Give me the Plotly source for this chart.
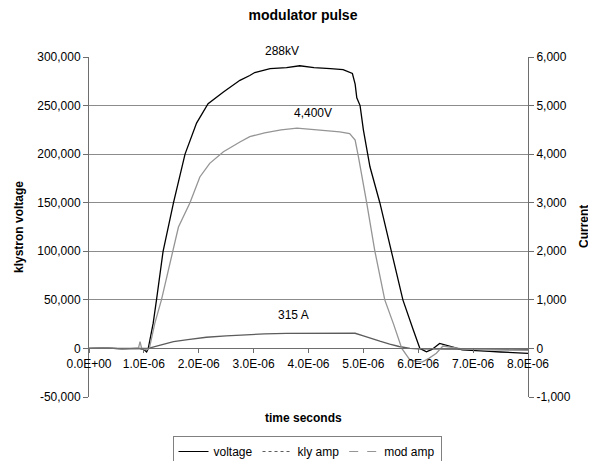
import plotly.graph_objects as go

# ---------------- data ----------------
x_tick_vals = [0, 1e-6, 2e-6, 3e-6, 4e-6, 5e-6, 6e-6, 7e-6, 8e-6]
x_tick_text = ["0.0E+00", "1.0E-06", "2.0E-06", "3.0E-06", "4.0E-06",
               "5.0E-06", "6.0E-06", "7.0E-06", "8.0E-06"]

y_left_vals = [-50000, 0, 50000, 100000, 150000, 200000, 250000, 300000]
y_left_text = ["-50,000", "0", "50,000", "100,000", "150,000", "200,000", "250,000", "300,000"]
y_right_vals = [-1000, 0, 1000, 2000, 3000, 4000, 5000, 6000]
y_right_text = ["-1,000", "0", "1,000", "2,000", "3,000", "4,000", "5,000", "6,000"]

voltage_t = [0, 0.3e-6, 0.6e-6, 0.9e-6, 1.0e-6, 1.05e-6, 1.08e-6, 1.12e-6, 1.17e-6,
             1.23e-6, 1.35e-6, 1.54e-6, 1.75e-6, 1.96e-6, 2.17e-6, 2.45e-6, 2.75e-6,
             2.93e-6, 3.02e-6, 3.3e-6, 3.6e-6, 3.84e-6, 4.1e-6, 4.4e-6, 4.63e-6,
             4.80e-6, 4.85e-6, 4.88e-6, 4.94e-6, 5.0e-6, 5.12e-6, 5.30e-6, 5.51e-6,
             5.72e-6, 5.91e-6, 6.03e-6, 6.15e-6, 6.25e-6, 6.39e-6, 6.51e-6, 6.65e-6,
             6.8e-6, 7.0e-6, 7.3e-6, 7.5e-6, 7.8e-6, 8.0e-6]
voltage_v = [0, 500, -500, 0, -1000, -3500, 0, 12000, 26000,
             50000, 100000, 150000, 200000, 232000, 252000, 264000, 276000,
             281000, 284000, 288000, 289000, 291000, 289000, 288000, 287000,
             283000, 272000, 258000, 250000, 225000, 187000, 150000, 100000,
             50000, 19000, 0, -3400, -1000, 5200, 3500, 1000,
             -1500, -2400, -3000, -3700, -4500, -5000]

kly_t = [0, 0.5e-6, 0.9e-6, 1.0e-6, 1.08e-6, 1.3e-6, 1.54e-6, 1.8e-6, 2.0e-6,
         2.14e-6, 2.5e-6, 2.99e-6, 3.2e-6, 3.6e-6, 4.0e-6, 4.4e-6, 4.85e-6,
         5.0e-6, 5.18e-6, 5.3e-6, 5.48e-6, 5.65e-6, 5.85e-6, 6.0e-6, 6.5e-6,
         7.0e-6, 7.5e-6, 8.0e-6]
kly_a = [0, 0, 0, 0, 0, 70, 138, 180, 205,
         230, 258, 290, 300, 308, 312, 315, 312,
         260, 187, 150, 90, 40, 0, -10, -15,
         -20, -20, -25]

mod_t = [0, 0.3e-6, 0.6e-6, 0.9e-6, 0.93e-6, 0.96e-6, 1.0e-6, 1.05e-6, 1.1e-6,
         1.15e-6, 1.20e-6, 1.32e-6, 1.51e-6, 1.63e-6, 1.84e-6, 2.02e-6, 2.2e-6,
         2.45e-6, 2.75e-6, 2.93e-6, 3.2e-6, 3.5e-6, 3.79e-6, 4.1e-6, 4.4e-6,
         4.57e-6, 4.75e-6, 4.85e-6, 4.91e-6, 4.97e-6, 5.06e-6, 5.21e-6, 5.39e-6,
         5.55e-6, 5.70e-6, 5.85e-6, 6.07e-6, 6.2e-6, 6.33e-6, 6.45e-6, 6.6e-6,
         6.8e-6, 7.0e-6, 7.5e-6, 8.0e-6]
mod_a = [0, 10, -10, 0, 140, 0, -20, -30, 0,
         250, 520, 1000, 1890, 2500, 3000, 3530, 3810,
         4050, 4250, 4360, 4440, 4500, 4535, 4510, 4480,
         4460, 4425, 4290, 3945, 3530, 3000, 2000, 1000,
         500, 0, -240, -280, -200, -100, 50, 20,
         -10, -20, -30, -40]

series_names = ["voltage", "kly amp", "mod amp"]

# ---------------- styles ----------------
C_VOLT = "#000000"
C_KLY = "#5c5c5c"
C_MOD = "#959595"
FONT = "Liberation Sans, Arial, sans-serif"
GRID = "#8c8c8c"
AXIS = "#6e6e6e"

# the page body adds an 8px offset; size the figure so the plot lands where the reference has it
OFF = 8
W, H = 596 - OFF, 461 - OFF

fig = go.Figure()

fig.add_trace(go.Scatter(x=voltage_t, y=voltage_v, mode="lines", name=series_names[0],
                         line=dict(color=C_VOLT, width=1.3), showlegend=False, yaxis="y"))
fig.add_trace(go.Scatter(x=kly_t, y=kly_a, mode="lines", name=series_names[1],
                         line=dict(color=C_KLY, width=1.3), showlegend=False, yaxis="y2"))
fig.add_trace(go.Scatter(x=mod_t, y=mod_a, mode="lines", name=series_names[2],
                         line=dict(color=C_MOD, width=1.3), showlegend=False, yaxis="y2"))

# legend-only entries (line styles as in the legend)
for name, col, dash in zip(series_names, [C_VOLT, C_KLY, C_MOD], ["solid", "dot", "dash"]):
    fig.add_trace(go.Scatter(x=[None], y=[None], mode="lines", name=name,
                             line=dict(color=col, width=1.2, dash=dash), yaxis="y"))

fig.update_layout(
    width=W, height=H,
    margin=dict(l=89 - OFF, r=W - (528 - OFF), t=57 - OFF, b=H - (397 - OFF),
                autoexpand=False),
    paper_bgcolor="white", plot_bgcolor="white",
    font=dict(family=FONT, size=12, color="black"),
    title=dict(text="<b>modulator pulse</b>", x=(303 - OFF) / W, xanchor="center",
               y=1 - (15 - OFF) / H, yanchor="middle", yref="container",
               font=dict(size=14, family=FONT)),
    xaxis=dict(range=[0, 8e-6], tickvals=x_tick_vals, ticktext=x_tick_text,
               showgrid=False, zeroline=False, showline=True, linecolor=AXIS,
               linewidth=1, ticks="outside", ticklen=4, tickcolor=AXIS,
               anchor="free", position=50000 / 350000,
               tickfont=dict(size=12)),
    yaxis=dict(range=[-50000, 300000], tickvals=y_left_vals, ticktext=y_left_text,
               showgrid=True, gridcolor=GRID, gridwidth=1, zeroline=False,
               showline=True, linecolor=AXIS, ticks="outside", ticklen=5,
               tickcolor=AXIS, tickfont=dict(size=12)),
    yaxis2=dict(range=[-1000, 6000], tickvals=y_right_vals, ticktext=y_right_text,
                overlaying="y", side="right", showgrid=False, zeroline=False,
                showline=True, linecolor=AXIS, ticks="outside", ticklen=5,
                tickcolor=AXIS, tickfont=dict(size=12)),
    legend=dict(orientation="h", x=(307 - 89) / 439, xanchor="center",
                y=(397 - 436) / 340, yanchor="top",
                bordercolor="#808080", borderwidth=1, bgcolor="white",
                font=dict(size=12), tracegroupgap=0),
    showlegend=True,
)

def px_x(p):
    return (p - 89) / 439

def px_y(p):
    return (397 - p) / 340

def label(text, px, py, angle=0):
    fig.add_annotation(text=text, x=px_x(px), y=px_y(py), xref="paper", yref="paper",
                       showarrow=False, xanchor="center", yanchor="middle",
                       textangle=angle, borderpad=0, font=dict(size=12))

label("288kV", 282, 51)
label("4,400V", 313, 113)
label("315 A", 293, 315)
label("<b>time seconds</b>", 303, 418)
label("<b>klystron voltage</b>", 19, 227, -90)
label("<b>Current</b>", 584, 227, -90)

fig.write_html("out.html")
